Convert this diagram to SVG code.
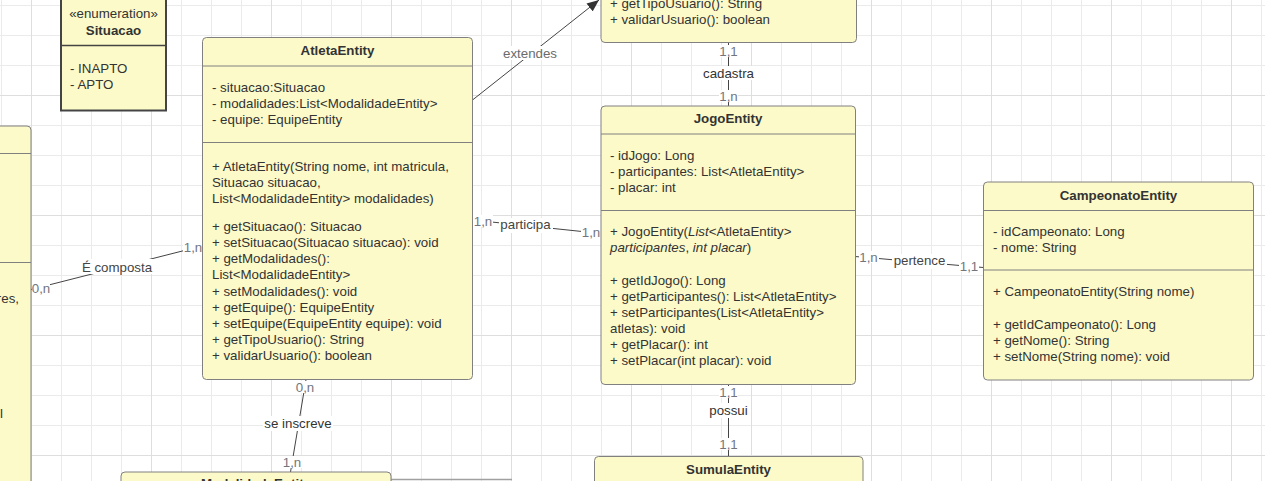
<svg xmlns="http://www.w3.org/2000/svg" width="1265" height="481" viewBox="0 0 1265 481">
<style>
.t{font-family:"Liberation Sans",Arial,sans-serif;font-size:13.3px;fill:#333}
.b{font-weight:bold}
.c{text-anchor:middle}
.box{fill:#fcfac9;stroke:#808080;stroke-width:1}
.dv{stroke:#808080;stroke-width:1}
.conn{stroke:#444;stroke-width:1;fill:none}
.lbg{fill:#fff}
.m{fill:#72757d}
.n{fill:#444}
.g{fill:#6b6b6b}
.it{font-style:italic}
</style>
<defs>
<pattern id="minor" patternUnits="userSpaceOnUse" x="1" y="5" width="30" height="30">
<path d="M0.5 0V30M0 0.5H30" stroke="#ebebeb" stroke-width="1" fill="none"/>
</pattern>
<pattern id="major" patternUnits="userSpaceOnUse" x="31" y="95" width="120" height="120">
<path d="M0.5 0V120M0 0.5H120" stroke="#dedede" stroke-width="1" fill="none"/>
</pattern>
<marker id="arr" viewBox="0 0 12 10" refX="12" refY="5" markerWidth="12" markerHeight="10" markerUnits="userSpaceOnUse" orient="auto">
<path d="M0 0L12 5L0 10Z" fill="#333"/>
</marker>
</defs>
<rect width="1265" height="481" fill="#fff"/>
<rect width="1265" height="481" fill="url(#minor)"/>
<rect width="1265" height="481" fill="url(#major)"/>

<g id="connectors">
<line class="conn" x1="472.5" y1="100" x2="599" y2="0" marker-end="url(#arr)"/>
<line class="conn" x1="728.5" y1="42" x2="728.5" y2="106"/>
<line class="conn" x1="728.5" y1="384" x2="728.5" y2="457"/>
<line class="conn" x1="31" y1="289.5" x2="202" y2="246"/>
<line class="conn" x1="472.5" y1="220" x2="601" y2="233.5"/>
<line class="conn" x1="855" y1="256.5" x2="983.5" y2="267.5"/>
<line class="conn" x1="306" y1="379.5" x2="290.5" y2="472"/>
<line x1="297" y1="479.5" x2="512" y2="479.5" stroke="#a0a0a0" stroke-width="1.5"/>

<rect class="lbg" x="502" y="46" width="56" height="14"/>
<text class="t c g" x="530" y="57.5">extendes</text>

<rect class="lbg" x="719" y="45" width="19" height="12"/>
<text class="t c m" x="728.5" y="55.5">1,1</text>
<rect class="lbg" x="702" y="66" width="53" height="14"/>
<text class="t c" x="728.5" y="77.5">cadastra</text>
<rect class="lbg" x="719" y="90" width="19" height="12"/>
<text class="t c m" x="728.5" y="100.5">1,n</text>

<rect class="lbg" x="719" y="386" width="19" height="12"/>
<text class="t c m" x="728.5" y="396.5">1,1</text>
<rect class="lbg" x="708" y="403" width="41" height="15"/>
<text class="t c" x="728.5" y="415">possui</text>
<rect class="lbg" x="719" y="438" width="19" height="12"/>
<text class="t c m" x="728.5" y="448.5">1,1</text>

<rect class="lbg" x="32" y="282" width="18" height="12"/>
<text class="t c m" x="41" y="292.5">0,n</text>
<rect class="lbg" x="81" y="259" width="72" height="15"/>
<text class="t c n" x="117" y="271.5">É composta</text>
<rect class="lbg" x="183" y="241" width="19" height="12"/>
<text class="t c m" x="193" y="251.5">1,n</text>

<rect class="lbg" x="473" y="215" width="20" height="12"/>
<text class="t c m" x="483" y="225.5">1,n</text>
<rect class="lbg" x="499" y="218" width="54" height="15"/>
<text class="t c n" x="525.5" y="229">participa</text>
<rect class="lbg" x="581" y="226" width="20" height="12"/>
<text class="t c m" x="591" y="236.5">1,n</text>

<rect class="lbg" x="859" y="251" width="20" height="12"/>
<text class="t c m" x="868.5" y="261.5">1,n</text>
<rect class="lbg" x="892" y="254" width="55" height="15"/>
<text class="t c n" x="919.5" y="265">pertence</text>
<rect class="lbg" x="959" y="260" width="20" height="12"/>
<text class="t c m" x="969" y="270.5">1,1</text>

<rect class="lbg" x="296" y="381" width="19" height="12"/>
<text class="t c m" x="305" y="391.5">0,n</text>
<rect class="lbg" x="263" y="416" width="70" height="15"/>
<text class="t c" x="298" y="428">se inscreve</text>
<rect class="lbg" x="282" y="456" width="20" height="12"/>
<text class="t c m" x="292" y="466.5">1,n</text>
</g>

<g id="node-situacao">
<rect x="61" y="-5" width="105" height="115.5" fill="#fcfac9" stroke="#444" stroke-width="2"/>
<line x1="61" y1="45.5" x2="166" y2="45.5" stroke="#444" stroke-width="1.5"/>
<text class="t c" x="113.5" y="17.5">«enumeration»</text>
<text class="t c b" x="113.5" y="34.5">Situacao</text>
<text class="t" x="70" y="72.5">- INAPTO</text>
<text class="t" x="70" y="88.5">- APTO</text>
</g>

<g id="node-left">
<rect class="box" x="-10" y="126" width="41" height="370" rx="4"/>
<line class="dv" x1="-10" y1="153.5" x2="31" y2="153.5"/>
<line class="dv" x1="-10" y1="262.5" x2="31" y2="262.5"/>
<text class="t" x="19" y="302.5" text-anchor="end">res,</text>
<text class="t" x="3" y="417.5" text-anchor="end">l</text>
</g>

<g id="node-usuario">
<rect class="box" x="601" y="-10" width="255.5" height="52.5" rx="4"/>
<text class="t" x="610" y="7.5">+ getTipoUsuario(): String</text>
<text class="t" x="610" y="23.5">+ validarUsuario(): boolean</text>
</g>

<g id="node-atleta">
<rect class="box" x="202.5" y="37.5" width="270" height="342" rx="4"/>
<line class="dv" x1="202.5" y1="66" x2="472.5" y2="66"/>
<line class="dv" x1="202.5" y1="142.5" x2="472.5" y2="142.5"/>
<text class="t c b" x="337.5" y="55">AtletaEntity</text>
<text class="t" x="212" y="92">- situacao:Situacao</text>
<text class="t" x="212" y="108">- modalidades:List&lt;ModalidadeEntity&gt;</text>
<text class="t" x="212" y="124">- equipe: EquipeEntity</text>
<text class="t" x="212" y="170.5">+ AtletaEntity(String nome, int matricula,</text>
<text class="t" x="212" y="186.5">Situacao situacao,</text>
<text class="t" x="212" y="202.5">List&lt;ModalidadeEntity&gt; modalidades)</text>
<text class="t" x="212" y="230.5">+ getSituacao(): Situacao</text>
<text class="t" x="212" y="247">+ setSituacao(Situacao situacao): void</text>
<text class="t" x="212" y="263">+ getModalidades():</text>
<text class="t" x="212" y="279">List&lt;ModalidadeEntity&gt;</text>
<text class="t" x="212" y="295.5">+ setModalidades(): void</text>
<text class="t" x="212" y="311.5">+ getEquipe(): EquipeEntity</text>
<text class="t" x="212" y="327.5">+ setEquipe(EquipeEntity equipe): void</text>
<text class="t" x="212" y="344">+ getTipoUsuario(): String</text>
<text class="t" x="212" y="360">+ validarUsuario(): boolean</text>
</g>

<g id="node-jogo">
<rect class="box" x="601" y="106" width="254.5" height="278.5" rx="4"/>
<line class="dv" x1="601" y1="134" x2="855.5" y2="134"/>
<line class="dv" x1="601" y1="210.5" x2="855.5" y2="210.5"/>
<text class="t c b" x="728" y="123">JogoEntity</text>
<text class="t" x="610" y="159.5">- idJogo: Long</text>
<text class="t" x="610" y="175.5">- participantes: List&lt;AtletaEntity&gt;</text>
<text class="t" x="610" y="191.5">- placar: int</text>
<text class="t" x="610" y="236">+ JogoEntity(<tspan class="it">List</tspan>&lt;AtletaEntity&gt;</text>
<text class="t" x="610" y="252"><tspan class="it">participantes</tspan>, <tspan class="it">int placar</tspan>)</text>
<text class="t" x="610" y="285">+ getIdJogo(): Long</text>
<text class="t" x="610" y="301">+ getParticipantes(): List&lt;AtletaEntity&gt;</text>
<text class="t" x="610" y="317">+ setParticipantes(List&lt;AtletaEntity&gt;</text>
<text class="t" x="610" y="332.5">atletas): void</text>
<text class="t" x="610" y="349">+ getPlacar(): int</text>
<text class="t" x="610" y="365">+ setPlacar(int placar): void</text>
</g>

<g id="node-campeonato">
<rect class="box" x="983.5" y="182" width="270" height="198" rx="4"/>
<line class="dv" x1="983.5" y1="210.5" x2="1253.5" y2="210.5"/>
<line class="dv" x1="983.5" y1="270" x2="1253.5" y2="270"/>
<text class="t c b" x="1118.5" y="199.5">CampeonatoEntity</text>
<text class="t" x="993" y="235.5">- idCampeonato: Long</text>
<text class="t" x="993" y="251.5">- nome: String</text>
<text class="t" x="993" y="296">+ CampeonatoEntity(String nome)</text>
<text class="t" x="993" y="328.5">+ getIdCampeonato(): Long</text>
<text class="t" x="993" y="344.5">+ getNome(): String</text>
<text class="t" x="993" y="360.5">+ setNome(String nome): void</text>
</g>

<g id="node-sumula">
<rect class="box" x="594.5" y="456.5" width="268.5" height="60" rx="4"/>
<text class="t c b" x="728.5" y="473.5">SumulaEntity</text>
</g>

<g id="node-modalidade">
<rect class="box" x="121" y="472" width="270" height="60" rx="4"/>
<text class="t c b" x="256" y="488">ModalidadeEntity</text>
</g>
</svg>
